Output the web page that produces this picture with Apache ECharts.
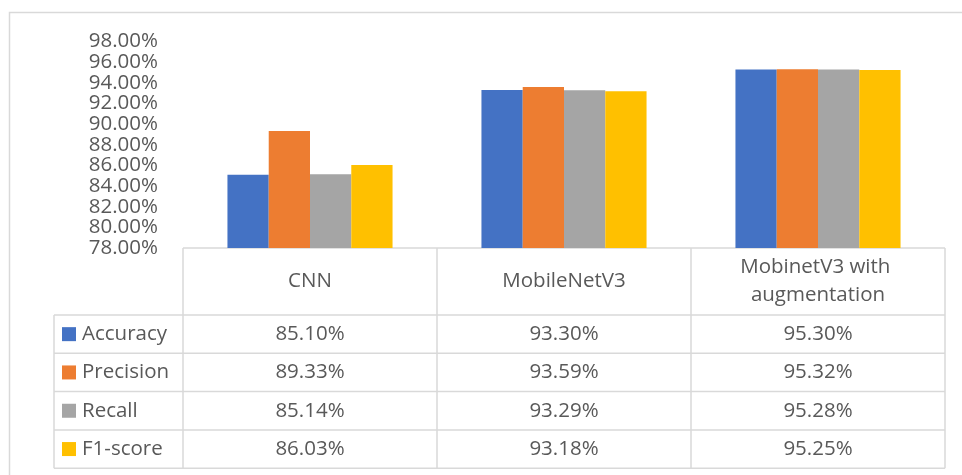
<!DOCTYPE html>
<html><head><meta charset="utf-8">
<script src="https://cdn.jsdelivr.net/npm/echarts@6/dist/echarts.min.js"></script>
<style>html,body{margin:0;padding:0;background:#fff}#c{width:962px;height:475px}</style>
</head><body><div id="c"></div>
<script>
const categories = ['CNN', 'MobileNetV3', 'MobinetV3 with augmentation'];
const seriesNames = ['Accuracy', 'Precision', 'Recall', 'F1-score'];
const accuracy = [85.10, 93.30, 95.30];
const precision = [89.33, 93.59, 95.32];
const recall = [85.14, 93.29, 95.28];
const f1score = [86.03, 93.18, 95.25];
const colors = ['#4472C4', '#ED7D31', '#A5A5A5', '#FFC000'];
const seriesValues = [accuracy, precision, recall, f1score];
const yMin = 78, yMax = 98, yStep = 2;

const FONT = '"Open Sans", "Noto Sans", sans-serif';
const FS = 20.5;
const TXT = '#595959';
const LINE = '#d9d9d9';

const baseY = {
  type: 'value', min: yMin, max: yMax, interval: yStep, position: 'left', offset: 0,
  splitLine: {show: false}, axisLine: {show: false}, axisTick: {show: false}
};
const lbl = {fontSize: FS, color: TXT, fontFamily: FONT, margin: 25, hideOverlap: false};

const chart = echarts.init(document.getElementById('c'), null, {renderer: 'canvas'});
chart.setOption({
  animation: false,
  textStyle: {fontFamily: FONT},
  grid: {left: 183, right: 17, top: 41.5, bottom: 227, containLabel: false},
  xAxis: {
    type: 'category', data: categories,
    axisLine: {show: false}, axisTick: {show: false}, axisLabel: {show: false}
  },
  yAxis: [
    Object.assign({}, baseY, {axisLabel: Object.assign({}, lbl, {
      showMinLabel: false, showMaxLabel: false,
      formatter: v => v.toFixed(2) + '%'})}),
    Object.assign({}, baseY, {axisLabel: Object.assign({}, lbl, {
      showMinLabel: true, showMaxLabel: true,
      formatter: v => (v === yMin || v === yMax) ? v.toFixed(2) + '%' : ''})})
  ],
  series: seriesNames.map((n, i) => ({
    name: n, type: 'bar', data: seriesValues[i], yAxisIndex: 0,
    barGap: '0%', barCategoryGap: '35%',
    itemStyle: {color: colors[i]}
  }))
});

function buildTable() {
  const y0 = chart.convertToPixel({yAxisIndex: 0}, yMin);
  const c0 = chart.convertToPixel({xAxisIndex: 0}, 0);
  const c1 = chart.convertToPixel({xAxisIndex: 0}, 1);
  const step = c1 - c0;
  const left = c0 - step / 2;
  const right = left + step * categories.length;
  const headH = 67, rowH = 38.3;
  const legLeft = 54;
  const els = [];
  const line = (x1, y1, x2, y2) => els.push({type: 'line', silent: true,
    shape: {x1, y1, x2, y2}, style: {stroke: LINE, lineWidth: 1.5}});
  els.push({type: 'rect', silent: true, shape: {x: 9.5, y: 12.5, width: 1000, height: 500},
    style: {fill: 'none', stroke: LINE, lineWidth: 1.5}});
  const bottom = y0 + headH + rowH * seriesNames.length;
  line(left, y0, right, y0);
  for (let r = 0; r <= seriesNames.length; r++) {
    const y = y0 + headH + rowH * r;
    line(legLeft, y, right, y);
  }
  for (let c = 0; c <= categories.length; c++) {
    const x = left + step * c;
    line(x, y0, x, bottom);
  }
  line(legLeft, y0 + headH, legLeft, bottom);
  categories.forEach((name, i) => {
    const cx = left + step * (i + 0.5);
    els.push({type: 'text', silent: true, x: cx, y: y0 + headH / 2,
      style: {text: name, width: 230, overflow: 'break', lineHeight: 28,
        font: FS + 'px ' + FONT, fill: TXT, align: 'center', verticalAlign: 'middle'}});
  });
  seriesNames.forEach((n, r) => {
    const cy = y0 + headH + rowH * (r + 0.5);
    els.push({type: 'rect', silent: true, shape: {x: 62, y: cy - 7, width: 14, height: 14},
      style: {fill: colors[r]}});
    els.push({type: 'text', silent: true, x: 82, y: cy,
      style: {text: n, font: FS + 'px ' + FONT, fill: TXT, align: 'left', verticalAlign: 'middle'}});
    seriesValues[r].forEach((v, i) => {
      const cx = left + step * (i + 0.5);
      els.push({type: 'text', silent: true, x: cx, y: cy,
        style: {text: v.toFixed(2) + '%', font: FS + 'px ' + FONT, fill: TXT,
          align: 'center', verticalAlign: 'middle'}});
    });
  });
  chart.setOption({graphic: {elements: els}});
}
buildTable();
</script>
</body></html>
